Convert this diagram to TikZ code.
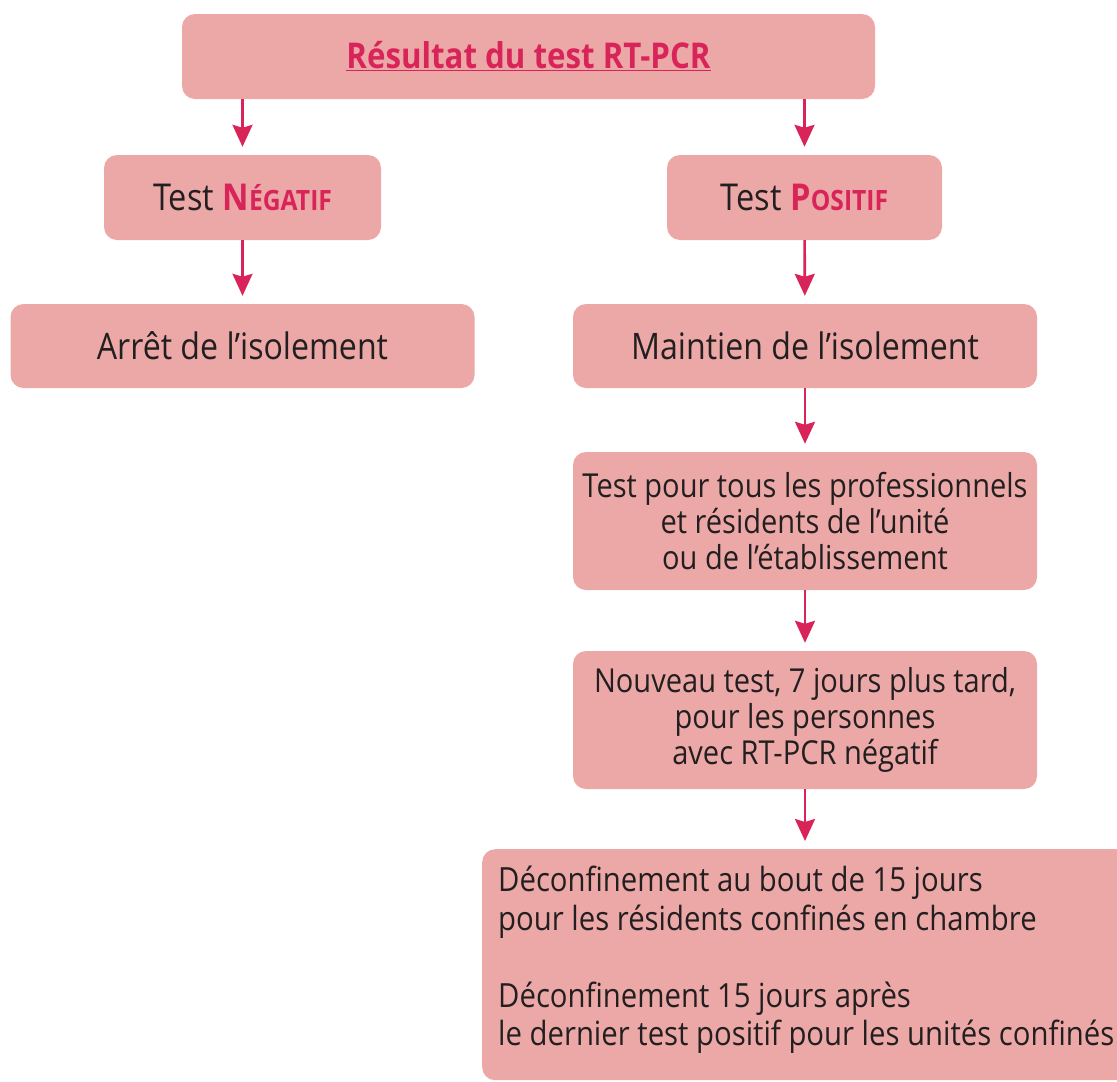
\documentclass[tikz,border=0pt]{standalone}
\usepackage{fontspec}
\setmainfont{Open Sans}[FakeStretch=0.88]
\usetikzlibrary{arrows.meta}
\definecolor{boxfill}{HTML}{ECA8A7}
\definecolor{crim}{HTML}{D9245A}
\definecolor{ink}{HTML}{231F20}
\newcommand{\bodyfont}{\fontsize{33}{36}\selectfont}
\newcommand{\bigbodyfont}{\fontsize{36.5}{40}\selectfont}
\tikzset{
  box/.style={fill=boxfill, rounded corners=13pt, inner sep=0pt, text=ink, align=center, font=\bodyfont},
  flow/.style={draw=crim, line width=2.6pt, -{Stealth[length=22pt,width=20pt,inset=3pt]}, shorten >=8pt},
}
\begin{document}
\begin{tikzpicture}[x=1pt,y=-1pt]
\useasboundingbox (0,0) rectangle (1117,1082);
\clip (0,0) rectangle (1117,1082);
\node[box, minimum width=693pt, minimum height=85pt] (title) at (528.5,56.5)
  {\fontsize{35.5}{38}\selectfont\bfseries\color{crim}\underline{Résultat du test RT-PCR}};
\node[box, minimum width=277pt, minimum height=85pt] (neg) at (242.5,197.5)
  {\fontsize{37}{40}\selectfont Test {\color{crim}\bfseries N{\fontsize{28}{30}\selectfont ÉGATIF}}};
\node[box, minimum width=275pt, minimum height=85pt] (pos) at (804.5,197.5)
  {\fontsize{37}{40}\selectfont Test {\color{crim}\bfseries P{\fontsize{28}{30}\selectfont OSITIF}}};
\node[box, minimum width=464pt, minimum height=84pt, font=\bigbodyfont] (arret) at (242.5,346) {Arrêt de l’isolement};
\node[box, minimum width=464pt, minimum height=84pt, font=\bigbodyfont] (maint) at (805,346) {Maintien de l’isolement};
\node[box, minimum width=464pt, minimum height=138pt] (tous) at (805,521)
  {Test pour tous les professionnels\\et résidents de l’unité\\ou de l’établissement};
\node[box, minimum width=464pt, minimum height=138pt] (nouv) at (805,720)
  {Nouveau test, 7 jours plus tard,\\pour les personnes\\avec RT-PCR négatif};
\node[box, minimum width=660pt, minimum height=231pt, anchor=north west] (deconf) at (482,849) {};
\node[anchor=north west, inner sep=0pt, align=left, text=ink, font=\fontsize{33.3}{38.5}\selectfont] (deconftext) at (498,866)
  {Déconfinement au bout de 15 jours\\pour les résidents confinés en chambre\\[38.5pt]Déconfinement 15 jours après\\le dernier test positif pour les unités confinés};
\draw[flow] (title.south -| neg) -- (neg);
\draw[flow] (title.south -| pos) -- (pos);
\draw[flow] (neg) -- (arret);
\draw[flow] (pos) -- (maint);
\draw[flow] (maint) -- (tous);
\draw[flow] (tous) -- (nouv);
\draw[flow] (nouv.south) -- (nouv.south |- deconf.north);
\end{tikzpicture}
\end{document}
